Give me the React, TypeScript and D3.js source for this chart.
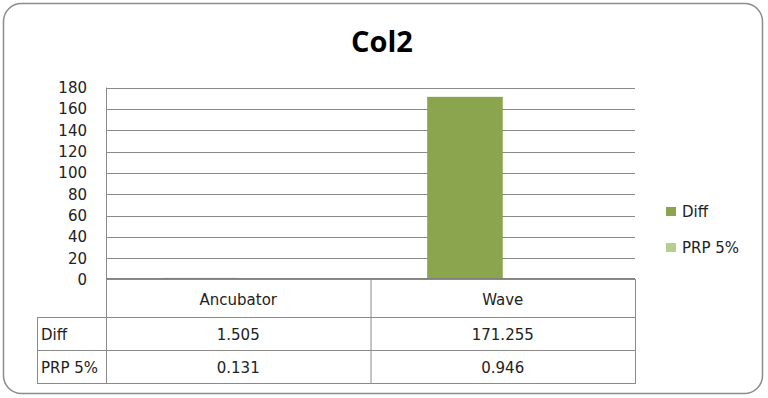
import React from "react";
import * as d3 from "d3";

const title = "Col2";
const categories = ["Ancubator", "Wave"];
const seriesNames = ["Diff", "PRP 5%"];
const diffValues = [1.505, 171.255];
const prpValues = [0.131, 0.946];
const diffLabels = ["1.505", "171.255"];
const prpLabels = ["0.131", "0.946"];
const yTicks = [0, 20, 40, 60, 80, 100, 120, 140, 160, 180];

const W = 768;
const H = 398;
const colors = ["#8aa54d", "#b6cf8e"];
const font = "'DejaVu Sans', Verdana, sans-serif";

export default function App() {
  const left = 106;
  const right = 635;
  const top = 87.5;
  const zeroY = 279.5;
  const y = d3.scaleLinear().domain([0, 180]).range([zeroY, top]);
  const x0 = d3.scaleBand<string>().domain(categories).range([left, right]).paddingInner(0).paddingOuter(0);
  const x1 = d3.scaleBand<string>().domain(seriesNames).range([0, x0.bandwidth()]).paddingInner(0).paddingOuter(0.75);
  const seriesValues = [diffValues, prpValues];
  const seriesLabels = [diffLabels, prpLabels];

  const headerBottom = 317.5;
  const rowH = 33;
  const tableLeft = 37;
  const gridColor = "#8a8a8a";

  return (
    <svg width={W} height={H} style={{ position: "absolute", left: 0, top: 0, background: "#fff" }}>
      <rect x={3.5} y={3.5} width={759} height={390} rx={18} ry={18} fill="#fff" stroke="#8c8c8c" strokeWidth={1.5} />
      <text x={382} y={51.5} textAnchor="middle" fontFamily="'Open Sans', sans-serif" fontWeight="bold" fontSize={29} fill="#000">
        {title}
      </text>
      {yTicks.map((t) => (
        <g key={t}>
          {t !== 0 && (
            <line x1={left} x2={right} y1={Math.round(y(t)) + 0.5} y2={Math.round(y(t)) + 0.5} stroke={gridColor} strokeWidth={1} />
          )}
          <text x={87} y={y(t) + 5.5} textAnchor="end" fontFamily={font} fontSize={15} fill="#222">
            {t}
          </text>
        </g>
      ))}
      <line x1={left + 0.5} x2={left + 0.5} y1={top} y2={zeroY} stroke={gridColor} />
      {categories.map((c, i) =>
        seriesNames.map((s, j) => {
          const v = seriesValues[j][i];
          return (
            <rect
              key={c + s}
              x={(x0(c) || 0) + (x1(s) || 0)}
              y={y(v)}
              width={x1.bandwidth()}
              height={zeroY - y(v)}
              fill={colors[j]}
            />
          );
        })
      )}
      <line x1={left} x2={right} y1={y(0) - 0.5} y2={y(0) - 0.5} stroke="#808080" strokeWidth={2} />
      {/* data table */}
      <g stroke={gridColor} strokeWidth={1} fill="none">
        <rect x={left + 0.5} y={zeroY} width={right - left} height={headerBottom - zeroY} />
        <rect x={tableLeft + 0.5} y={headerBottom} width={right - tableLeft} height={rowH * 2} />
        <line x1={tableLeft} x2={right} y1={headerBottom + rowH} y2={headerBottom + rowH} />
        <line x1={left + 0.5} x2={left + 0.5} y1={zeroY} y2={headerBottom + rowH * 2} />
        {categories.slice(1).map((c) => (
          <line key={c} x1={(x0(c) || 0) + 0.5} x2={(x0(c) || 0) + 0.5} y1={zeroY} y2={headerBottom + rowH * 2} />
        ))}
      </g>
      {categories.map((c) => (
        <text key={c} x={(x0(c) || 0) + x0.bandwidth() / 2} y={305} textAnchor="middle" fontFamily={font} fontSize={15} fill="#222">
          {c}
        </text>
      ))}
      {seriesNames.map((s, j) => (
        <g key={s}>
          <text x={41} y={headerBottom + rowH * j + 22} fontFamily={font} fontSize={15} fill="#222">
            {s}
          </text>
          {categories.map((c, i) => (
            <text key={c} x={(x0(c) || 0) + x0.bandwidth() / 2} y={headerBottom + rowH * j + 22} textAnchor="middle" fontFamily={font} fontSize={15} fill="#222">
              {seriesLabels[j][i]}
            </text>
          ))}
        </g>
      ))}
      {/* legend */}
      {seriesNames.map((s, j) => (
        <g key={s} transform={`translate(666, ${207 + j * 36})`}>
          <rect x={0} y={0} width={10} height={9} fill={colors[j]} />
          <text x={16} y={10} fontFamily={font} fontSize={15} fill="#222">
            {s}
          </text>
        </g>
      ))}
    </svg>
  );
}
